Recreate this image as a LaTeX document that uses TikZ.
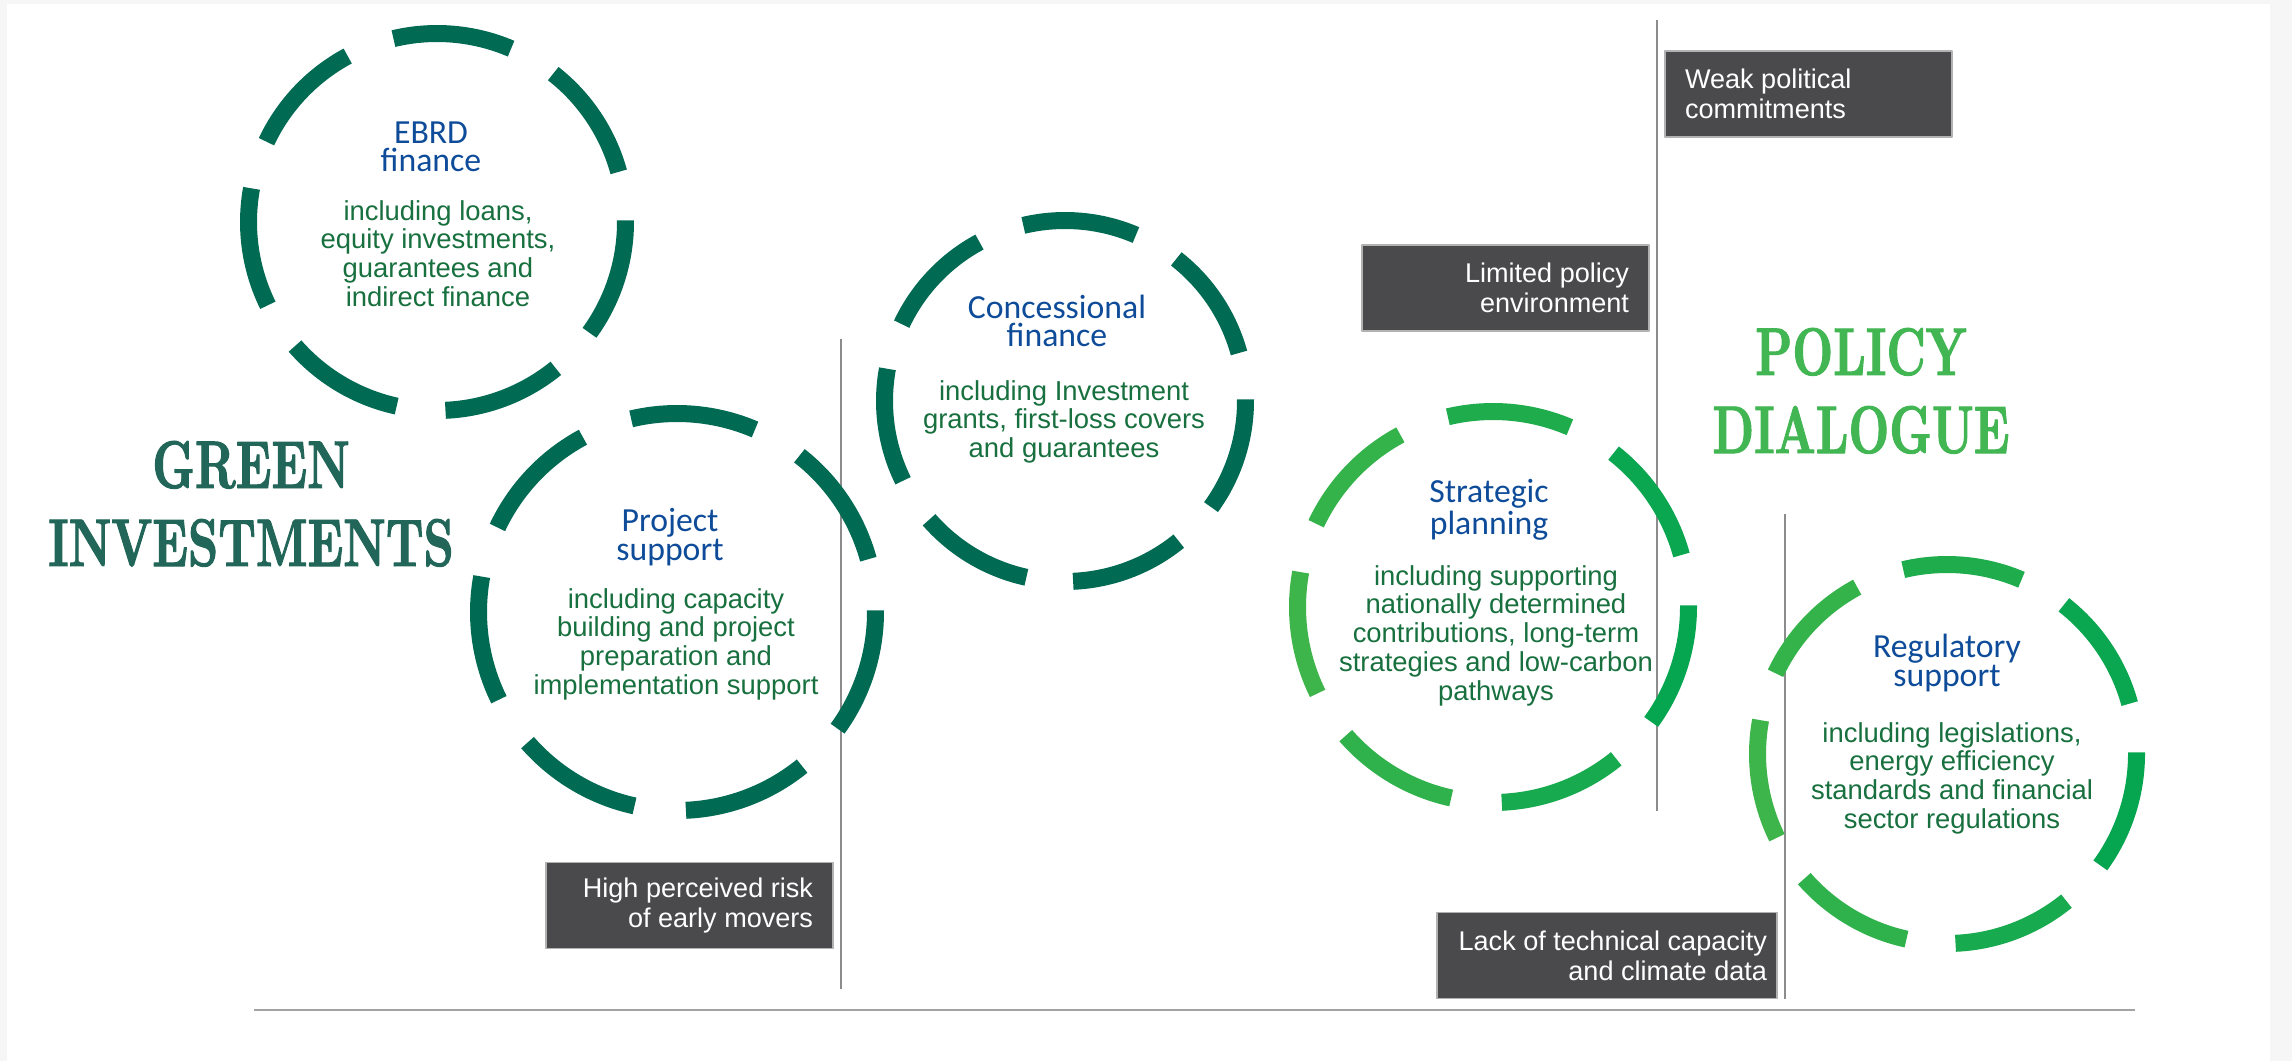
\documentclass[tikz,border=0pt]{standalone}
\usepackage{fontspec}
\usepackage{tikz}

\newfontfamily\bodyfont{Liberation Sans}
\newfontfamily\titlefont{Carlito}
\newfontfamily\headfont{lmroman10-bold}[Extension=.otf, FakeStretch=0.70, FakeBold=1.4]

\definecolor{ringdark}{HTML}{006A53}
\definecolor{ringleft}{HTML}{3DB54A}
\definecolor{ringright}{HTML}{05A550}
\definecolor{headdark}{HTML}{216658}
\definecolor{headlight}{HTML}{42B653}
\definecolor{titleblue}{HTML}{0E4C9A}
\definecolor{bodygreen}{HTML}{18703F}
\definecolor{riskgray}{HTML}{4A4A4C}
\definecolor{rulegray}{HTML}{8C8C8C}

% seven dashes round a circle: centre x, centre y, radius, colour
\newcommand{\dashring}[4]{%
  \foreach \k in {0,...,6}{%
    \pgfmathsetmacro{\ringang}{-36+\k*360/7}%
    \pgfmathsetmacro{\ringmix}{50+50*cos(\ringang+18.25)}%
    \draw[line width=0.17cm, color=#4] (#1,#2) ++(\ringang:#3)
      arc[start angle=\ringang, delta angle=36.5, radius=#3];
  }}

\begin{document}
\begin{tikzpicture}[line cap=butt,line join=round,x=1.cm,y=1.cm,
    ringtitle/.style={inner sep=0, anchor=base, text width=2.6cm, align=flush center, text=titleblue,
      font=\titlefont\fontsize{9.6pt}{8.25pt}\selectfont},
    ringbody/.style={inner sep=0, anchor=base, text width=3.4cm, align=flush center, text=bodygreen,
      font=\bodyfont\fontsize{7.8pt}{8.2pt}\selectfont},
    bighead/.style={inner sep=0, anchor=base, text width=4.6cm, align=flush center,
      font=\headfont\fontsize{19.2pt}{22.2pt}\selectfont},
    riskbox/.style={fill=riskgray, draw=gray!60, line width=0.4pt, text=white,
      inner xsep=0.2cm, inner ysep=0, minimum height=0.86cm,
      font=\bodyfont\fontsize{7.7pt}{8.5pt}\selectfont}]

      \useasboundingbox (0,0) rectangle (22.92,10.61);
      \fill[gray!7] (0,0) rectangle (22.92,10.61);
      \fill[white] (0.07,0) rectangle (22.70,10.57);

      % separators
      \draw[rulegray, line width=0.6pt] (8.41,7.22) -- (8.41,0.72);
      \draw[rulegray, line width=0.6pt] (16.57,10.41) -- (16.57,2.50);
      \draw[rulegray, line width=0.6pt] (17.85,5.47) -- (17.85,0.62);
      \draw[rulegray!80, line width=0.8pt] (2.54,0.51) -- (21.35,0.51);

      % green investments
      \dashring{4.37}{8.39}{1.885}{ringdark}
      \dashring{6.77}{4.49}{1.985}{ringdark}
      \dashring{10.65}{6.60}{1.805}{ringdark}

      % policy dialogue, lighter towards the left
      \dashring{14.93}{4.54}{1.955}{ringright!\ringmix!ringleft}
      \dashring{19.47}{3.07}{1.895}{ringright!\ringmix!ringleft}

      \node[bighead, text=headdark] (green) at (2.51,5.73) {GREEN\\INVESTMENTS};
      \node[bighead, text=headlight] (policy) at (18.61,6.86) {POLICY\\DIALOGUE};

      % EBRD finance
      \node[ringtitle] (ebrd) at (4.31,9.18) {EBRD\\finance};
      \node[ringbody] (ebrdtxt) at (4.38,8.41) {including loans,\\equity investments,\\guarantees and\\indirect finance};

      % project support
      \node[ringtitle] (project) at (6.70,5.30) {Project\\support};
      \node[ringbody] (projecttxt) at (6.76,4.53) {including capacity\\building and project\\preparation and\\implementation support};

      % concessional finance
      \node[ringtitle] (conc) at (10.57,7.43) {Concessional\\finance};
      \node[ringbody] (conctxt) at (10.64,6.61) {including Investment\\grants, first-loss covers\\and guarantees};

      % strategic planning
      \node[ringtitle] (strat) at (14.89,5.59) {Strategic\\planning};
      \node[ringbody] (strattxt) at (14.96,4.76) {including supporting\\nationally determined\\contributions, long-term\\strategies and low-carbon\\pathways};

      % regulatory support
      \node[ringtitle] (reg) at (19.47,4.04) {Regulatory\\support};
      \node[ringbody] (regtxt) at (19.52,3.19) {including legislations,\\energy efficiency\\standards and financial\\sector regulations};

      % barriers
      \node[riskbox, text width=2.47cm, align=flush left] (weak) at (18.085,9.67) {Weak political\\commitments};
      \node[riskbox, text width=2.47cm, align=flush right] (limited) at (15.055,7.73) {Limited policy\\environment};
      \node[riskbox, text width=2.47cm, align=flush right] (risk) at (6.895,1.555) {High perceived risk\\of early movers};
      \node[riskbox, text width=3.2cm, inner xsep=0.1cm, align=flush right] (lack) at (16.07,1.055) {Lack of technical capacity\\and climate data};

\end{tikzpicture}
\end{document}
